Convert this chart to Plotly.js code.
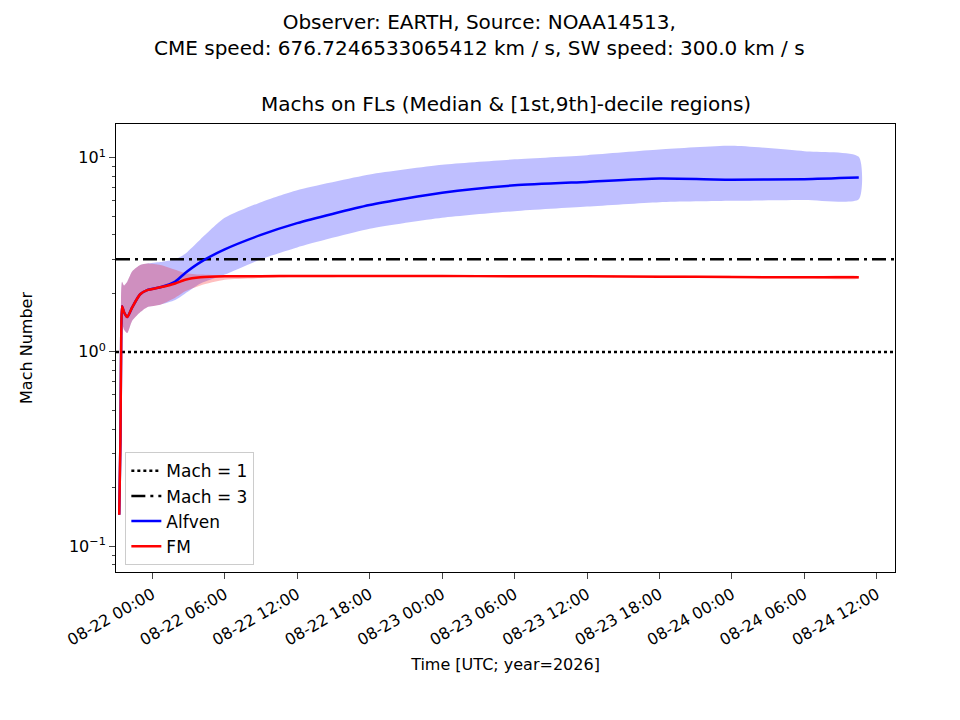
<!DOCTYPE html>
<html><head><meta charset="utf-8">
<script src="https://cdn.plot.ly/plotly-3.0.1.min.js"></script>
<style>body{margin:0;background:#fff}#plot{width:960px;height:720px}</style>
</head><body><div id="plot"></div>
<script>
const times = ['2026-08-21 21:16','2026-08-21 21:22','2026-08-21 21:26','2026-08-21 21:30','2026-08-21 21:40',
  '2026-08-21 21:56','2026-08-21 22:21','2026-08-21 23:00','2026-08-21 23:35','2026-08-22 00:40',
  '2026-08-22 01:54','2026-08-22 02:44','2026-08-22 04:00','2026-08-22 06:00','2026-08-22 09:00',
  '2026-08-22 12:00','2026-08-22 18:00','2026-08-23 00:00','2026-08-23 06:00','2026-08-23 12:00',
  '2026-08-23 18:00','2026-08-24 00:00','2026-08-24 06:00','2026-08-24 10:30'];

const alfvenMed = [0.145,0.35,1.2,1.72,1.6,1.51,1.7,1.98,2.08,2.15,2.3,2.55,2.9,3.37,4.0,4.6,5.7,6.6,7.2,7.5,7.8,7.7,7.75,7.9];
const alfvenHi  = [0.145,0.35,2.1,2.3,2.2,2.3,2.6,2.8,2.85,2.9,3.0,3.2,3.8,4.9,5.9,6.8,8.2,9.2,9.8,10.3,11.0,11.5,10.8,10.1];
const alfvenLo  = [0.145,0.35,1.3,1.4,1.3,1.25,1.45,1.6,1.7,1.75,1.85,2.0,2.25,2.5,3.0,3.45,4.3,4.9,5.3,5.6,5.9,6.0,6.05,6.1];

const fmMed = [0.145,0.35,1.2,1.72,1.6,1.51,1.7,1.98,2.08,2.15,2.25,2.35,2.42,2.45,2.45,2.46,2.46,2.46,2.45,2.45,2.44,2.43,2.42,2.42];
const fmHi  = [0.145,0.35,2.1,2.3,2.2,2.3,2.6,2.8,2.85,2.8,2.65,2.55,2.5,2.48,2.48,2.49,2.49,2.49,2.48,2.48,2.47,2.46,2.45,2.45];
const fmLo  = [0.145,0.35,1.3,1.4,1.3,1.25,1.45,1.6,1.7,1.75,1.9,2.05,2.2,2.35,2.4,2.42,2.43,2.43,2.42,2.42,2.41,2.4,2.39,2.39];

const xStart = '2026-08-21 21:00', xEnd = '2026-08-24 13:30';
const yTickVals = [0.1, 1, 10];
const yTickText = ['10<sup>−1</sup>', '10<sup>0</sup>', '10<sup>1</sup>'];
const xTickVals = ['2026-08-22 00:00','2026-08-22 06:00','2026-08-22 12:00','2026-08-22 18:00','2026-08-23 00:00',
  '2026-08-23 06:00','2026-08-23 12:00','2026-08-23 18:00','2026-08-24 00:00','2026-08-24 06:00','2026-08-24 12:00'];
const xTickText = xTickVals.map(t => t.slice(5, 16));

function minorTicks() {
  const out = [];
  for (const d of [0.01, 0.1, 1, 10]) for (let k = 2; k <= 9; k++) out.push(k * d);
  return out;
}

function band(lo, hi, color) {
  return {
    x: times.concat(times.slice().reverse()),
    y: hi.concat(lo.slice().reverse()),
    fill: 'toself', fillcolor: color, mode: 'lines', line: { width: 0, shape: 'spline', smoothing: 0.6 },
    hoverinfo: 'skip', showlegend: false
  };
}

const data = [
  band(alfvenLo, alfvenHi, 'rgba(0,0,255,0.25)'),
  band(fmLo, fmHi, 'rgba(255,0,0,0.25)'),
  { x: [xStart, xEnd], y: [1, 1], mode: 'lines', name: 'Mach = 1', line: { color: 'black', width: 2.5, dash: 'dot' } },
  { x: [xStart, xEnd], y: [3, 3], mode: 'lines', name: 'Mach = 3', line: { color: 'black', width: 2.5, dash: '14px,5px,3px,5px' } },
  { x: times, y: alfvenMed, mode: 'lines', name: 'Alfven', line: { color: 'blue', width: 2.5, shape: 'spline', smoothing: 0.6 } },
  { x: times, y: fmMed, mode: 'lines', name: 'FM', line: { color: 'red', width: 2.5, shape: 'spline', smoothing: 0.6 } }
];

const layout = {
  width: 960, height: 720,
  margin: { l: 116, r: 65, t: 124, b: 148 },
  paper_bgcolor: '#fff', plot_bgcolor: '#fff',
  font: { family: 'DejaVu Sans', size: 16, color: 'black' },
  showlegend: true,
  legend: { x: 0.012, y: 0.015, xanchor: 'left', yanchor: 'bottom', bordercolor: '#ccc', borderwidth: 1,
    bgcolor: 'rgba(255,255,255,0.8)', font: { size: 17 } },
  annotations: [
    { text: 'Observer: EARTH, Source: NOAA14513,<br>CME speed: 676.7246533065412 km / s, SW speed: 300.0 km / s',
      xref: 'paper', yref: 'paper', x: 0.467, y: 1, yshift: 62, xanchor: 'center', yanchor: 'bottom',
      showarrow: false, font: { size: 20 } },
    { text: 'Machs on FLs (Median & [1st,9th]-decile regions)', xref: 'paper', yref: 'paper', x: 0.5, y: 1,
      yshift: 6, xanchor: 'center', yanchor: 'bottom', showarrow: false, font: { size: 20 } }
  ],
  xaxis: {
    type: 'date', range: [xStart, xEnd], tickmode: 'array', tickvals: xTickVals, ticktext: xTickText,
    tickangle: -30, ticks: 'outside', ticklen: 6, showgrid: false, zeroline: false, showline: true,
    linecolor: 'black', mirror: true, title: { text: 'Time [UTC; year=2026]', font: { size: 16 }, standoff: 10 },
    tickfont: { size: 16 }
  },
  yaxis: {
    type: 'log', range: [Math.log10(0.0736), Math.log10(14.9)], tickmode: 'array', tickvals: yTickVals,
    ticktext: yTickText, ticks: 'outside', ticklen: 6, showgrid: false, zeroline: false, showline: true,
    linecolor: 'black', mirror: true, title: { text: 'Mach Number', font: { size: 16 }, standoff: 32 }, tickfont: { size: 16 },
    minor: { tickmode: 'array', tickvals: minorTicks(), ticks: 'outside', ticklen: 3, showgrid: false }
  }
};

Plotly.newPlot('plot', data, layout, { displayModeBar: false });
</script></body></html>
